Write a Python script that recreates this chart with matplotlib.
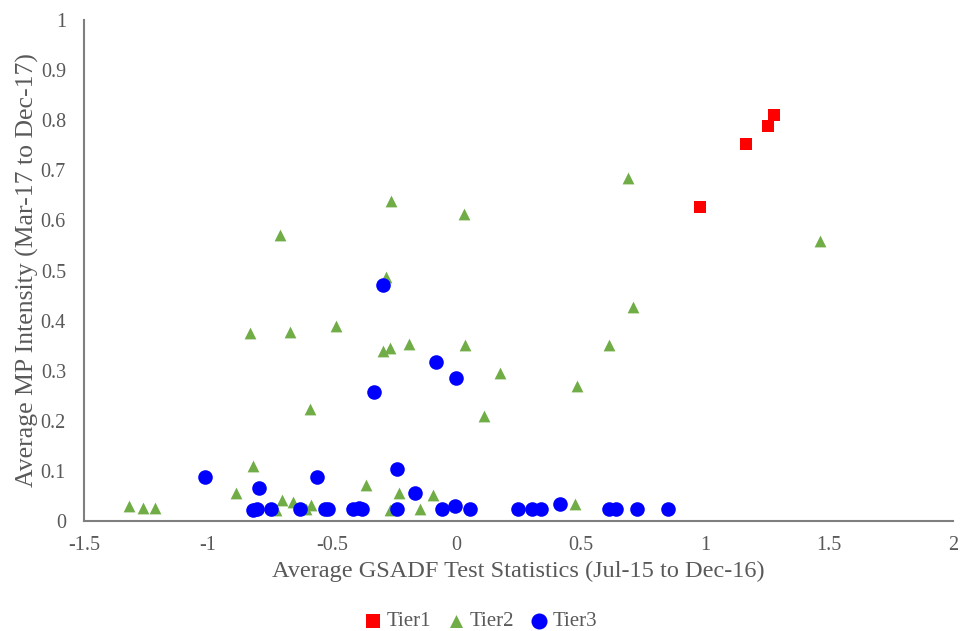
import matplotlib.pyplot as plt
from matplotlib.ticker import FuncFormatter

# Tier1 (red squares)
tier1_x = [0.98, 1.164, 1.252, 1.279]
tier1_y = [0.626, 0.752, 0.789, 0.810]

# Tier2 (green triangles)
tier2_x = [-1.32, -1.262, -1.216, -0.887, -0.82, -0.702, -0.658, -0.585, -0.605, -0.725,
           -0.366, -0.266, -0.232, -0.148, -0.094, 0.475, -0.83, -0.669, -0.487, -0.295,
           -0.266, -0.192, 0.033, 0.174, 0.109, -0.592, -0.712, -0.263, 0.028, 0.689,
           -0.286, 0.712, 1.462, 0.613, 0.486]
tier2_y = [0.030, 0.025, 0.025, 0.056, 0.110, 0.042, 0.037, 0.032, 0.024, 0.022,
           0.072, 0.022, 0.056, 0.023, 0.052, 0.034, 0.376, 0.378, 0.389, 0.339,
           0.346, 0.353, 0.351, 0.295, 0.210, 0.223, 0.571, 0.639, 0.612, 0.685,
           0.488, 0.428, 0.559, 0.351, 0.269]

# Tier3 (blue circles)
tier3_x = [-1.011, -0.795, -0.56, -0.239, -0.819, -0.803, -0.749, -0.632, -0.528, -0.517,
           -0.418, -0.393, -0.38, -0.239, -0.169, -0.058, -0.008, 0.054, 0.248, 0.305,
           0.341, 0.416, 0.613, 0.64, 0.725, 0.851, -0.297, -0.082, -0.001, -0.333]
tier3_y = [0.088, 0.065, 0.088, 0.103, 0.022, 0.023, 0.023, 0.023, 0.023, 0.023,
           0.023, 0.025, 0.023, 0.023, 0.055, 0.023, 0.030, 0.023, 0.023, 0.023,
           0.023, 0.033, 0.023, 0.023, 0.023, 0.023, 0.471, 0.317, 0.285, 0.257]

x_ticks = [-1.5, -1, -0.5, 0, 0.5, 1, 1.5, 2]
y_ticks = [0, 0.1, 0.2, 0.3, 0.4, 0.5, 0.6, 0.7, 0.8, 0.9, 1]

plt.rcParams['font.family'] = ['Liberation Serif', 'DejaVu Serif']
texto = '#595959'

fig = plt.figure(figsize=(9.6, 6.31), dpi=100)
ax = fig.add_axes([0.0875, 0.1743, 0.9055, 0.794])

ax.scatter(tier1_x, tier1_y, marker='s', s=80, color='#FF0000', linewidths=0, label='Tier1', zorder=3)
ax.scatter(tier2_x, tier2_y, marker='^', s=72, color='#70AD47', linewidths=0, label='Tier2', zorder=3)
ax.scatter(tier3_x, tier3_y, marker='o', s=110, color='#0000FF', linewidths=0, label='Tier3', zorder=3)

ax.set_xlim(-1.5, 2)
ax.set_ylim(0, 1)
ax.set_xticks(x_ticks)
ax.set_yticks(y_ticks)
ax.xaxis.set_major_formatter(FuncFormatter(lambda v, p: f"{v:g}"))
ax.yaxis.set_major_formatter(FuncFormatter(lambda v, p: f"{v:g}"))
ax.tick_params(axis='both', length=0, labelsize=14.5, colors=texto)
ax.tick_params(axis='y', pad=13)
ax.tick_params(axis='x', pad=11)

for lado in ['top', 'right']:
    ax.spines[lado].set_visible(False)
for lado in ['left', 'bottom']:
    ax.spines[lado].set_color('#7f7f7f')
    ax.spines[lado].set_linewidth(1.5)

ax.set_xlabel("Average GSADF Test Statistics (Jul-15 to Dec-16)", fontsize=17.5, color=texto, labelpad=4)
ax.set_ylabel("Average MP Intensity (Mar-17 to Dec-17)", fontsize=18.5, color=texto, labelpad=1)

fig.legend(loc='lower center', bbox_to_anchor=(0.5, -0.03), ncol=3, frameon=False, fontsize=15,
           handlelength=1.0, handletextpad=0.15, columnspacing=0.7, labelcolor=texto, markerscale=1.1)

plt.savefig("out.png", dpi=100)
